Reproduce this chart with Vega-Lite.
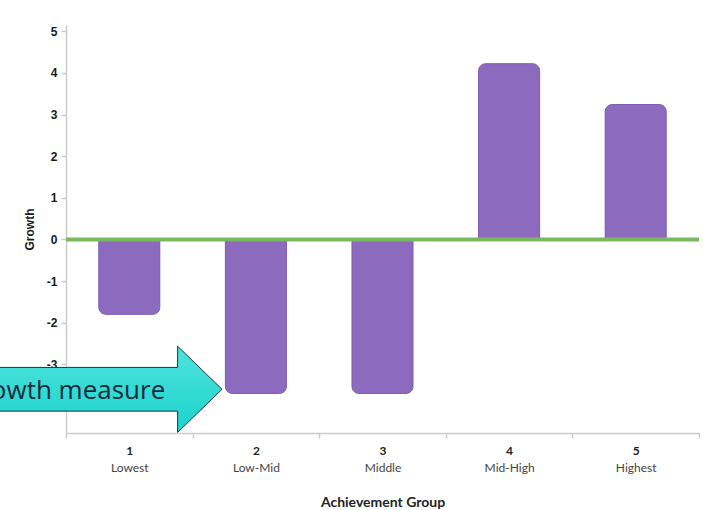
{
  "$schema": "https://vega.github.io/schema/vega-lite/v6.json",
  "width": 633,
  "height": 408,
  "autosize": {"type": "none"},
  "padding": {"left": 66, "top": 25, "right": 12, "bottom": 77},
  "background": "white",
  "config": {"view": {"stroke": null}, "axis": {"grid": false}},
  "datasets": {
    "groups": [
      {"group": "1", "name": "Lowest", "growth": -1.8},
      {"group": "2", "name": "Low-Mid", "growth": -3.7},
      {"group": "3", "name": "Middle", "growth": -3.7},
      {"group": "4", "name": "Mid-High", "growth": 4.22},
      {"group": "5", "name": "Highest", "growth": 3.24}
    ],
    "zero": [{"level": 0}],
    "note": [{"group": "1", "growth": -3.6, "text": "Growth measure"}]
  },
  "layer": [
    {
      "data": {"name": "groups"},
      "mark": {
        "type": "bar",
        "width": {"band": 0.482},
        "fill": "#8c6bbf",
        "stroke": "#7c5bb2",
        "strokeWidth": 1,
        "cornerRadiusTopLeft": {"expr": "datum.growth > 0 ? 7 : 0"},
        "cornerRadiusTopRight": {"expr": "datum.growth > 0 ? 7 : 0"},
        "cornerRadiusBottomLeft": {"expr": "datum.growth < 0 ? 7 : 0"},
        "cornerRadiusBottomRight": {"expr": "datum.growth < 0 ? 7 : 0"}
      },
      "encoding": {
        "x": {
          "field": "group",
          "type": "nominal",
          "scale": {"domain": ["1", "2", "3", "4", "5"], "paddingInner": 0, "paddingOuter": 0},
          "axis": {
            "orient": "bottom",
            "title": "Achievement Group",
            "labelAngle": 0,
            "tickBand": "extent",
            "domainColor": "#cccccc",
            "domainWidth": 1.5,
            "tickColor": "#cccccc",
            "tickWidth": 1.5,
            "tickSize": 5,
            "labelFont": "Lato",
            "labelFontWeight": "bold",
            "labelFontSize": 12,
            "labelColor": "#222222",
            "labelPadding": 7,
            "titleFont": "Lato",
            "titleFontSize": 14,
            "titleFontWeight": "bold",
            "titleColor": "#222222",
            "titlePadding": 39
          }
        },
        "y": {
          "field": "growth",
          "type": "quantitative",
          "title": "Growth",
          "scale": {"domain": [-4.65, 5.15], "nice": false, "zero": false},
          "axis": {
            "values": [-4, -3, -2, -1, 0, 1, 2, 3, 4, 5],
            "labelExpr": "datum.value + ''",
            "domainColor": "#cccccc",
            "domainWidth": 1.5,
            "tickColor": "#cccccc",
            "tickWidth": 1.5,
            "tickSize": 5,
            "labelFont": "Liberation Sans",
            "labelFontWeight": "bold",
            "labelFontSize": 12,
            "labelColor": "#1a1a1a",
            "labelPadding": 4,
            "titleFont": "Liberation Sans",
            "titleFontWeight": "bold",
            "titleFontSize": 12,
            "titleColor": "#1a1a1a",
            "titlePadding": 10
          }
        },
        "y2": {"datum": 0}
      }
    },
    {
      "data": {"name": "zero"},
      "mark": {"type": "rule", "color": "#7bb661", "strokeWidth": 4},
      "encoding": {"y": {"field": "level", "type": "quantitative", "title": "Growth"}}
    },
    {
      "data": {"name": "note"},
      "mark": {
        "type": "point",
        "shape": "M -1.17 -0.19 L 0.42 -0.19 L 0.42 -0.375 L 0.806 0 L 0.42 0.375 L 0.42 0.19 L -1.17 0.19 Z",
        "size": 52900,
        "filled": true,
        "opacity": 1,
        "fill": {
          "gradient": "linear",
          "x1": 0, "y1": 0, "x2": 0, "y2": 1,
          "stops": [{"offset": 0, "color": "#4fe3dc"}, {"offset": 1, "color": "#1bd3cc"}]
        },
        "stroke": "#1d3547",
        "strokeWidth": 1
      },
      "encoding": {
        "x": {
          "field": "group",
          "type": "nominal",
          "scale": {"domain": ["1", "2", "3", "4", "5"], "paddingInner": 0, "paddingOuter": 0},
          "axis": {
            "orient": "bottom",
            "title": null,
            "domain": false,
            "ticks": false,
            "tickSize": 0,
            "labelAngle": 0,
            "labelExpr": "({'1': 'Lowest', '2': 'Low-Mid', '3': 'Middle', '4': 'Mid-High', '5': 'Highest'})[datum.value]",
            "labelFont": "Lato",
            "labelFontSize": 12,
            "labelColor": "#444444",
            "labelPadding": 29
          }
        },
        "y": {"field": "growth", "type": "quantitative", "title": "Growth"}
      }
    },
    {
      "data": {"name": "note"},
      "mark": {
        "type": "text",
        "align": "right",
        "baseline": "alphabetic",
        "dx": 36,
        "dy": 10,
        "font": "Open Sans",
        "fontSize": 26,
        "fill": "#172a3c"
      },
      "encoding": {
        "x": {
          "field": "group",
          "type": "nominal",
          "scale": {"domain": ["1", "2", "3", "4", "5"], "paddingInner": 0, "paddingOuter": 0},
          "axis": null
        },
        "y": {"field": "growth", "type": "quantitative", "title": "Growth"},
        "text": {"field": "text"}
      }
    }
  ],
  "resolve": {"scale": {"x": "independent"}, "axis": {"x": "independent"}}
}
